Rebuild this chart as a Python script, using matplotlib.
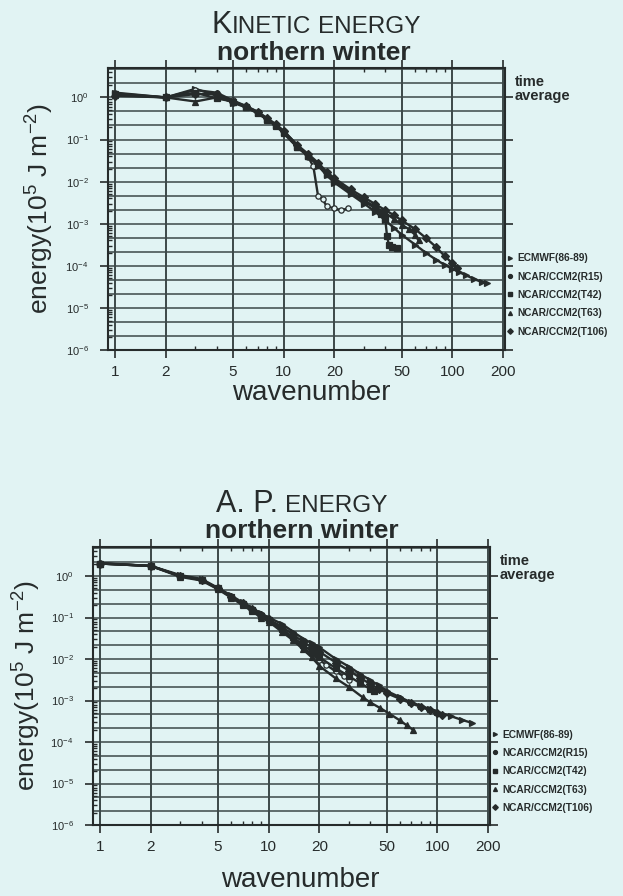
import numpy as np
import matplotlib.pyplot as plt
from matplotlib.lines import Line2D
from matplotlib.ticker import LogLocator, NullFormatter, FixedLocator

plt.rcParams['font.family'] = ['Liberation Sans', 'DejaVu Sans']
plt.rcParams['mathtext.fontset'] = 'custom'
plt.rcParams['mathtext.rm'] = 'Liberation Sans'
plt.rcParams['mathtext.it'] = 'Liberation Sans:italic'
plt.rcParams['mathtext.bf'] = 'Liberation Sans:bold'
plt.rcParams['mathtext.default'] = 'regular'

bg = '#e1f3f3'
ink = '#262b2b'
gridc = '#3c4848'

labels = ["ECMWF(86-89)", "NCAR/CCM2(R15)", "NCAR/CCM2(T42)", "NCAR/CCM2(T63)", "NCAR/CCM2(T106)"]
markers = ['>', 'o', 's', '^', 'D']

xticks = [1, 2, 5, 10, 20, 50, 100, 200]
xticklabels = ["1", "2", "5", "10", "20", "50", "100", "200"]
yticks = [1e0, 1e-1, 1e-2, 1e-3, 1e-4, 1e-5, 1e-6]
yticklabels = ["10$^{0}$", "10$^{-1}$", "10$^{-2}$", "10$^{-3}$", "10$^{-4}$", "10$^{-5}$", "10$^{-6}$"]

# kinetic energy, northern winter
ke_n_ecmwf = [1, 2, 3, 4, 5, 6, 7, 8, 9, 10, 12, 14, 16, 18, 20, 25, 30, 35, 40, 45, 50, 60, 70, 80, 90, 100, 110, 120, 135, 150, 160]
ke_ecmwf = [1.25, 1.0, 1.6, 1.1, 0.75, 0.58, 0.42, 0.3, 0.22, 0.15, 0.07, 0.04, 0.024, 0.014, 0.0095, 0.005, 0.003, 0.0019, 0.0012, 8e-4,
            5.5e-4, 3.2e-4, 2e-4, 1.4e-4, 1.05e-4, 8.5e-5, 7e-5, 6e-5, 4.8e-5, 4.1e-5, 3.8e-5]
ke_n_r15 = [1, 2, 3, 4, 5, 6, 7, 8, 9, 10, 12, 14, 15, 16, 17, 18, 20, 22, 24]
ke_r15 = [1.3, 1.0, 1.5, 1.3, 0.85, 0.62, 0.45, 0.31, 0.22, 0.16, 0.075, 0.038, 0.023, 0.0045, 0.0038, 0.0026, 0.0023, 0.0021, 0.0023]
ke_n_t42 = [1, 2, 3, 4, 5, 6, 7, 8, 9, 10, 12, 14, 16, 18, 20, 25, 30, 35, 38, 40, 41, 42, 44, 47]
ke_t42 = [1.2, 1.0, 1.3, 0.95, 0.8, 0.58, 0.43, 0.29, 0.21, 0.14, 0.066, 0.04, 0.025, 0.015, 0.0105, 0.0056, 0.0034, 0.0023, 0.0017, 0.0013,
          5e-4, 3.2e-4, 2.8e-4, 2.6e-4]
ke_n_t63 = [1, 2, 3, 4, 5, 6, 7, 8, 9, 10, 12, 14, 16, 18, 20, 25, 30, 35, 40, 45, 50, 55, 60, 63]
ke_t63 = [1.15, 1.0, 0.8, 1.0, 0.8, 0.6, 0.44, 0.3, 0.22, 0.15, 0.068, 0.04, 0.025, 0.015, 0.0105, 0.0058, 0.0036, 0.0025, 0.0018, 0.0013,
          9.5e-4, 7.5e-4, 5.5e-4, 4e-4]
ke_n_t106 = [1, 2, 3, 4, 5, 6, 7, 8, 9, 10, 12, 14, 16, 18, 20, 25, 30, 35, 40, 45, 50, 60, 70, 80, 90, 100, 106]
ke_t106 = [1.1, 1.0, 1.2, 1.2, 0.8, 0.62, 0.46, 0.32, 0.23, 0.16, 0.075, 0.045, 0.028, 0.017, 0.012, 0.0065, 0.0042, 0.0029, 0.0021, 0.0016,
           0.0012, 7.5e-4, 4.5e-4, 2.8e-4, 1.7e-4, 1.15e-4, 9e-5]

# available potential energy, northern winter
ape_n_ecmwf = [1, 2, 3, 4, 5, 6, 7, 8, 9, 10, 12, 14, 16, 18, 20, 25, 30, 35, 40, 45, 50, 60, 70, 80, 90, 100, 120, 140, 160]
ape_ecmwf = [2.0, 1.75, 1.05, 0.85, 0.52, 0.34, 0.23, 0.17, 0.125, 0.1, 0.07, 0.045, 0.031, 0.024, 0.019, 0.01, 0.0065, 0.0043, 0.0031, 0.0023,
             0.0017, 0.0012, 9e-4, 7.5e-4, 6.2e-4, 5.3e-4, 4.2e-4, 3.4e-4, 2.9e-4]
ape_n_r15 = [1, 2, 3, 4, 5, 6, 7, 8, 9, 10, 12, 14, 16, 18, 20, 22, 25, 28, 30]
ape_r15 = [2.05, 1.75, 1.0, 0.8, 0.5, 0.32, 0.21, 0.15, 0.11, 0.088, 0.05, 0.03, 0.019, 0.013, 0.0095, 0.0072, 0.005, 0.0038, 0.0032]
ape_n_t42 = [1, 2, 3, 4, 5, 6, 7, 8, 9, 10, 12, 14, 16, 18, 20, 25, 30, 35, 40, 42]
ape_t42 = [2.0, 1.75, 1.0, 0.8, 0.5, 0.31, 0.21, 0.15, 0.11, 0.085, 0.052, 0.033, 0.022, 0.015, 0.011, 0.006, 0.0038, 0.0026, 0.0019, 0.0017]
ape_n_t63 = [1, 2, 3, 4, 5, 6, 7, 8, 9, 10, 12, 14, 16, 18, 20, 25, 30, 36, 40, 46, 52, 60, 66, 72]
ape_t63 = [2.0, 1.75, 0.95, 0.78, 0.48, 0.3, 0.2, 0.14, 0.1, 0.08, 0.045, 0.028, 0.017, 0.011, 0.0068, 0.0034, 0.0021, 0.0012, 9e-4, 6.5e-4,
           4.8e-4, 3.3e-4, 2.5e-4, 1.95e-4]
ape_n_t106 = [1, 2, 3, 4, 5, 6, 7, 8, 9, 10, 12, 14, 16, 18, 20, 25, 30, 35, 40, 45, 50, 60, 70, 80, 90, 100, 106]
ape_t106 = [2.0, 1.75, 1.0, 0.82, 0.5, 0.32, 0.22, 0.16, 0.115, 0.09, 0.06, 0.038, 0.026, 0.019, 0.015, 0.0082, 0.0052, 0.0035, 0.0025, 0.0019,
            0.0015, 0.0011, 8.5e-4, 7e-4, 5.8e-4, 5e-4, 4.5e-4]

W, H = 623, 896
fig = plt.figure(figsize=(W / 100, H / 100), dpi=100, facecolor=bg)
ax_ke = fig.add_axes([108 / W, 1 - 350 / H, 397 / W, 282 / H])
ax_ape = fig.add_axes([93 / W, 1 - 825 / H, 397 / W, 278 / H])

panels = [
    (ax_ke, [(ke_n_ecmwf, ke_ecmwf), (ke_n_r15, ke_r15), (ke_n_t42, ke_t42), (ke_n_t63, ke_t63), (ke_n_t106, ke_t106)]),
    (ax_ape, [(ape_n_ecmwf, ape_ecmwf), (ape_n_r15, ape_r15), (ape_n_t42, ape_t42), (ape_n_t63, ape_t63), (ape_n_t106, ape_t106)]),
]

for ax, series in panels:
    ax.set_facecolor(bg)
    ax.set_xscale('log')
    ax.set_yscale('log')
    ax.set_xlim(0.91, 205)
    ax.set_ylim(1e-6, 5.0)

    # horizontal rules, three per decade
    for v in 10.0 ** (np.arange(-18, 3) / 3):
        ax.axhline(v, color=gridc, lw=1.1, zorder=1)

    ax.set_xticks(xticks)
    ax.set_xticklabels(xticklabels)
    ax.xaxis.set_minor_locator(FixedLocator([3, 4, 6, 7, 8, 9, 30, 40, 60, 70, 80, 90]))
    ax.xaxis.set_minor_formatter(NullFormatter())
    ax.grid(axis='x', which='major', color=gridc, lw=1.4, zorder=1)
    ax.set_yticks(yticks)
    ax.set_yticklabels(yticklabels)
    ax.yaxis.set_minor_locator(LogLocator(base=10, subs=np.arange(2, 10)))
    ax.yaxis.set_minor_formatter(NullFormatter())

    ax.tick_params(axis='x', which='major', direction='out', length=6, width=1.2, top=True,
                   labelsize=11, pad=5, colors=ink)
    ax.tick_params(axis='x', which='minor', direction='in', length=3, width=1.0, top=True, colors=ink)
    ax.tick_params(axis='y', which='major', direction='out', length=6, width=1.2, right=True,
                   labelsize=8, pad=8, colors=ink)
    ax.tick_params(axis='y', which='minor', direction='in', length=3, width=1.0, colors=ink)
    for s in ax.spines.values():
        s.set_color(ink)
        s.set_linewidth(1.5)

    for (n, e), m in zip(series, markers):
        mfc = bg if m == 'o' else ink
        ax.plot(n, e, marker=m, ms=3.8, mfc=mfc, mec=ink, mew=0.9, lw=1.7, color=ink, zorder=3, clip_on=False)

    handles = [Line2D([], [], marker=m, ls='none', ms=2.8, color=ink) for m in markers]
    ax.legend(handles, labels, loc='upper left', bbox_to_anchor=(1.0, 0.35), frameon=False,
              prop={'size': 7.3, 'weight': 'bold'}, handlelength=0.6, handletextpad=0.4,
              labelspacing=0.82, borderaxespad=0, borderpad=0.2, labelcolor=ink)
    ax.text(1.025, 0.975, "time\naverage", transform=ax.transAxes, va='top', ha='left',
            fontsize=10.5, fontweight='bold', color=ink, linespacing=1.0)

renderer = fig.canvas.get_renderer()


def caps_title(parts, xc, yb):
    # parts: (text, fontsize, gap after in px)
    texts = []
    for s, fs, gap in parts:
        t = fig.text(0, 1 - yb / H, s, fontsize=fs, color=ink, va='baseline', ha='left')
        texts.append((t, gap))
    widths = [t.get_window_extent(renderer).width + gap for t, gap in texts]
    x = xc - sum(widths) / 2
    for (t, gap), w in zip(texts, widths):
        t.set_x(x / W)
        x += w


caps_title([("K", 22, 0), ("INETIC", 17.5, 7), ("ENERGY", 17.5, 0)], 316, 33)
fig.text(314 / W, 1 - 60 / H, "northern winter", fontsize=19, fontweight='bold', color=ink,
         ha='center', va='baseline')
caps_title([("A. P.", 22, 7), ("ENERGY", 17.5, 0)], 302, 512)
fig.text(302 / W, 1 - 538 / H, "northern winter", fontsize=19, fontweight='bold', color=ink,
         ha='center', va='baseline')

ylab = "energy(10$^{5}$ J m$^{-2}$)"
fig.text(40 / W, 1 - 208 / H, ylab, rotation=90, fontsize=19, color=ink, ha='center', va='center')
fig.text(27 / W, 1 - 685 / H, ylab, rotation=90, fontsize=19, color=ink, ha='center', va='center')
fig.text(311 / W, 1 - 400 / H, "wavenumber", fontsize=20, color=ink, ha='center', va='baseline')
fig.text(300 / W, 1 - 887 / H, "wavenumber", fontsize=20, color=ink, ha='center', va='baseline')

fig.savefig("out.png", dpi=100, facecolor=bg)
